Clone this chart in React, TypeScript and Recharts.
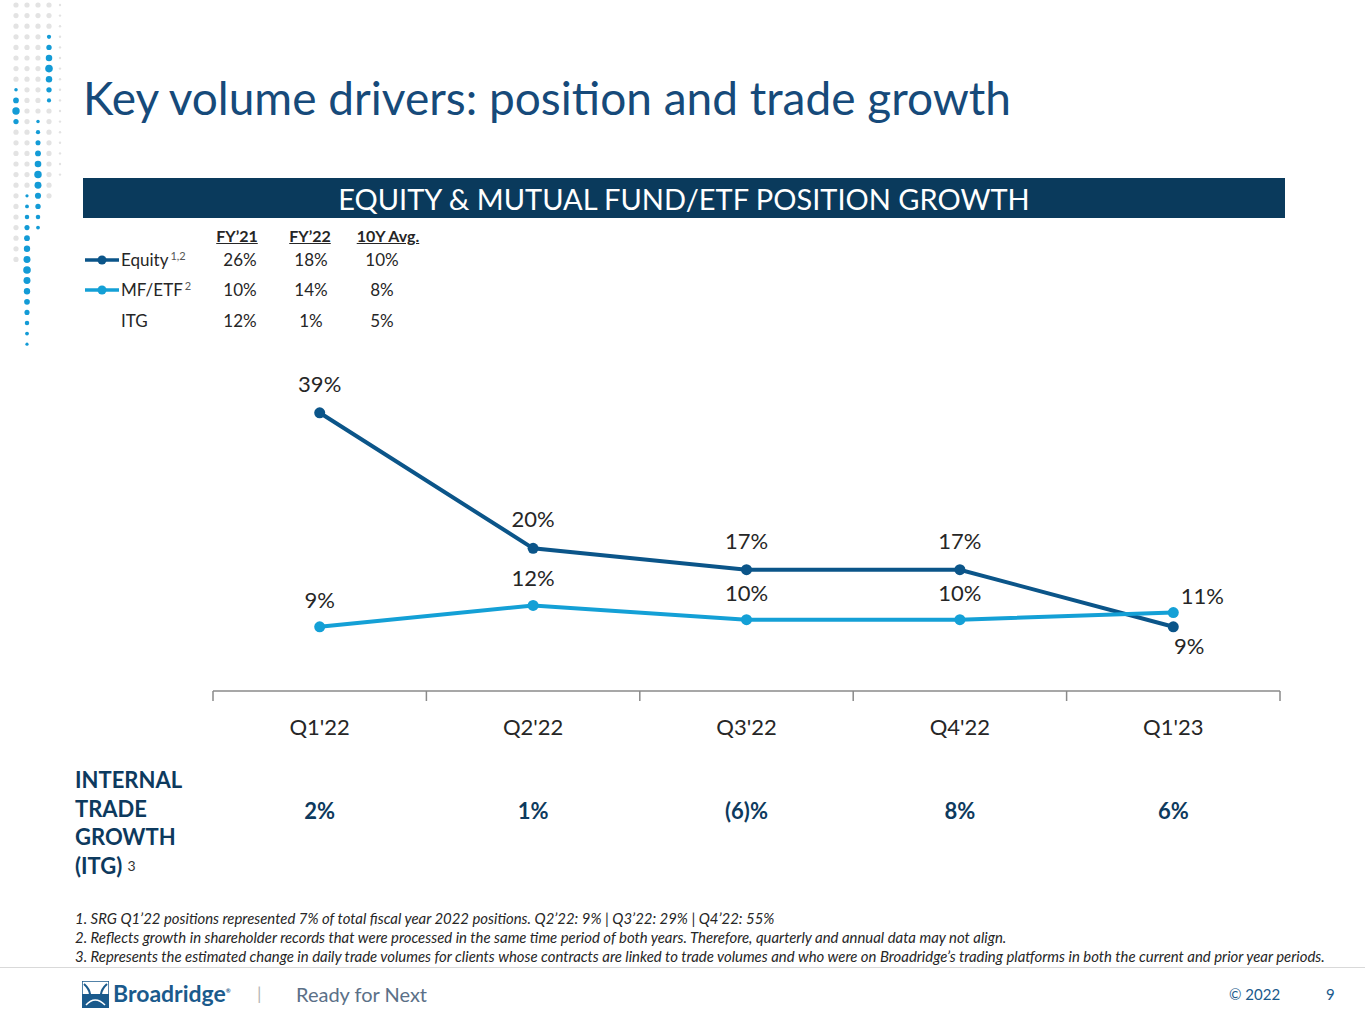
import { LineChart, Line, XAxis, YAxis, LabelList } from 'recharts'

// chart values
const quarters = ["Q1'22", "Q2'22", "Q3'22", "Q4'22", "Q1'23"]
const equityGrowth = [39, 20, 17, 17, 9]
const mfEtfGrowth = [9, 12, 10, 10, 11]
const itgGrowth = [2, 1, -6, 8, 6]

// annual table in the legend
const annualHeaders = ['FY’21', 'FY’22', '10Y Avg.']
const equityAnnual = [26, 18, 10]
const mfEtfAnnual = [10, 14, 8]
const itgAnnual = [12, 1, 5]

const footnotes = [
  '1. SRG Q1’22 positions represented 7% of total fiscal year 2022 positions. Q2’22: 9% | Q3’22: 29% | Q4’22: 55%',
  '2. Reflects growth in shareholder records that were processed in the same time period of both years. Therefore, quarterly and annual data may not align.',
  '3. Represents the estimated change in daily trade volumes for clients whose contracts are linked to trade volumes and who were on Broadridge’s trading platforms in both the current and prior year periods.',
]

const EQUITY = '#0b5589'
const MF = '#14a0d6'
const NAVY = '#0d3a5e'
const FONT = 'Lato, "Open Sans", sans-serif'
const HALF_BAND = 1067 / 5 / 2

const fmtPct = (v: number) => (v < 0 ? `(${Math.abs(v)})%` : `${v}%`)

const data = quarters.map((q, i) => ({
  quarter: q,
  equity: equityGrowth[i],
  mf: mfEtfGrowth[i],
  itg: fmtPct(itgGrowth[i]),
}))

function QuarterTick(props: any) {
  const { x, y, payload, index } = props
  const last = index === quarters.length - 1
  return (
    <g>
      <line x1={x - HALF_BAND} x2={x - HALF_BAND} y1={y} y2={y + 10} stroke="#8a8a8a" strokeWidth={1.5} />
      {last && <line x1={x + HALF_BAND} x2={x + HALF_BAND} y1={y} y2={y + 10} stroke="#8a8a8a" strokeWidth={1.5} />}
      <text x={x} y={y + 44} textAnchor="middle" fontSize={22} fill="#262626" fontFamily={FONT}>
        {payload.value}
      </text>
    </g>
  )
}

function ItgTick(props: any) {
  const { x, y, payload } = props
  return (
    <text x={x} y={y + 68} textAnchor="middle" fontSize={22} fontWeight={700} fill={NAVY} fontFamily={FONT}>
      {payload.value}
    </text>
  )
}

function EquityLabel(props: any) {
  const { x, y, value, index } = props
  const below = index === equityGrowth.length - 1
  return (
    <text
      x={below ? x + 16 : x}
      y={below ? y + 27 : y - 21}
      textAnchor="middle"
      fontSize={22}
      fill="#262626"
      fontFamily={FONT}
    >
      {value}%
    </text>
  )
}

function MfLabel(props: any) {
  const { x, y, value, index } = props
  const right = index === mfEtfGrowth.length - 1
  return (
    <text
      x={right ? x + 29 : x}
      y={right ? y - 9 : y - 19}
      textAnchor="middle"
      fontSize={22}
      fill="#262626"
      fontFamily={FONT}
    >
      {value}%
    </text>
  )
}

// decorative dot strip on the left edge
const dotCols = [16, 27, 38, 49, 60]
const blueRuns: [number, number, number][] = [
  [3, 27, 110],
  [0, 88, 132],
  [2, 118, 235],
  [1, 195, 345],
]

function DotStrip() {
  const dots: JSX.Element[] = []
  dotCols.forEach((cx, c) => {
    for (let cy = 5; cy < 345; cy += 10.6) {
      const run = blueRuns.find((r) => r[0] === c && cy >= r[1] && cy <= r[2])
      if (run) {
        const mid = (run[1] + run[2]) / 2
        const r = 1.6 + 2.2 * (1 - Math.abs(cy - mid) / ((run[2] - run[1]) / 2))
        dots.push(<circle key={`${c}-${cy}`} cx={cx} cy={cy} r={Math.max(1.5, r)} fill="#139bd6" />)
      } else if (cy < 260 - c * 20) {
        dots.push(<circle key={`${c}-${cy}`} cx={cx} cy={cy} r={c === 4 ? 1.2 : 2.6} fill="#e3e3e3" />)
      }
    }
  })
  return (
    <svg width={75} height={350} style={{ position: 'absolute', left: 0, top: 0 }}>
      {dots}
    </svg>
  )
}

function LegendMarker({ color }: { color: string }) {
  return (
    <svg width={36} height={12} style={{ position: 'absolute', left: 84, top: -6 }}>
      <line x1={1} x2={35} y1={6} y2={6} stroke={color} strokeWidth={3.5} />
      <circle cx={18} cy={6} r={4.5} fill={color} />
    </svg>
  )
}

function AnnualRow({ top, name, sup, values, color }: { top: number; name: string; sup?: string; values: number[]; color?: string }) {
  return (
    <div style={{ position: 'absolute', left: 0, top, width: 450 }}>
      {color && <LegendMarker color={color} />}
      <span style={{ position: 'absolute', left: 121, top: -11, fontSize: 17, color: '#262626', whiteSpace: 'nowrap' }}>
        {name}
        {sup && <span style={{ fontSize: 11, color: '#555', verticalAlign: 'top', marginLeft: 2 }}>{sup}</span>}
      </span>
      {values.map((v, i) => (
        <span
          key={i}
          style={{ position: 'absolute', left: [240, 311, 382][i] - 30, width: 60, textAlign: 'center', top: -11, fontSize: 17, color: '#262626' }}
        >
          {v}%
        </span>
      ))}
    </div>
  )
}

export default function App() {
  return (
    <div
      style={{
        position: 'absolute',
        left: 0,
        top: 0,
        width: 1365,
        height: 1024,
        background: '#ffffff',
        fontFamily: FONT,
        overflow: 'hidden',
      }}
    >
      <DotStrip />
      <div style={{ position: 'absolute', left: 83, top: 70, fontSize: 46, color: '#164a7a', whiteSpace: 'nowrap' }}>
        Key volume drivers: position and trade growth
      </div>
      <div
        style={{
          position: 'absolute',
          left: 83,
          top: 178,
          width: 1202,
          height: 40,
          background: '#0a3a5c',
          color: '#ffffff',
          fontSize: 29,
          textAlign: 'center',
          lineHeight: '42px',
        }}
      >
        EQUITY &amp; MUTUAL FUND/ETF POSITION GROWTH
      </div>

      {annualHeaders.map((h, i) => (
        <span
          key={h}
          style={{
            position: 'absolute',
            left: [237, 310, 388][i] - 40,
            width: 80,
            top: 226,
            textAlign: 'center',
            fontSize: 16,
            fontWeight: 700,
            textDecoration: 'underline',
            color: '#262626',
          }}
        >
          {h}
        </span>
      ))}
      <AnnualRow top={260} name="Equity" sup="1,2" values={equityAnnual} color={EQUITY} />
      <AnnualRow top={290} name="MF/ETF" sup="2" values={mfEtfAnnual} color={MF} />
      <AnnualRow top={321} name="ITG" values={itgAnnual} />

      <div style={{ position: 'absolute', left: 200, top: 340 }}>
        <LineChart width={1100} height={520} data={data} margin={{ top: 30, right: 20, left: 13, bottom: 9 }}>
          <YAxis hide domain={[0, 45]} />
          <XAxis
            dataKey="quarter"
            scale="band"
            height={60}
            tickSize={0}
            tickMargin={0}
            axisLine={{ stroke: '#8a8a8a', strokeWidth: 1.5 }}
            tickLine={false}
            tick={<QuarterTick />}
            interval={0}
          />
          <XAxis
            xAxisId="itg"
            dataKey="itg"
            scale="band"
            height={100}
            tickSize={0}
            tickMargin={0}
            axisLine={false}
            tickLine={false}
            tick={<ItgTick />}
            interval={0}
          />
          <Line
            dataKey="equity"
            stroke={EQUITY}
            strokeWidth={4}
            dot={{ r: 5.5, fill: EQUITY, stroke: EQUITY, strokeWidth: 0 }}
            isAnimationActive={false}
          >
            <LabelList dataKey="equity" content={<EquityLabel />} />
          </Line>
          <Line
            dataKey="mf"
            stroke={MF}
            strokeWidth={4}
            dot={{ r: 5.5, fill: MF, stroke: MF, strokeWidth: 0 }}
            isAnimationActive={false}
          >
            <LabelList dataKey="mf" content={<MfLabel />} />
          </Line>
        </LineChart>
      </div>

      <div style={{ position: 'absolute', left: 75, top: 766, fontSize: 22, fontWeight: 700, color: NAVY, lineHeight: '28.5px' }}>
        INTERNAL
        <br />
        TRADE
        <br />
        GROWTH
        <br />
        (ITG) <span style={{ fontSize: 14, fontWeight: 400, color: '#333', verticalAlign: 'top' }}>3</span>
      </div>

      <div style={{ position: 'absolute', left: 75, top: 909, fontSize: 14.9, fontStyle: 'italic', color: '#262626', lineHeight: '19px' }}>
        {footnotes.map((f) => (
          <div key={f} style={{ whiteSpace: 'nowrap' }}>
            {f}
          </div>
        ))}
      </div>

      <div style={{ position: 'absolute', left: 0, top: 967, width: 1365, height: 1, background: '#d9d9d9' }} />

      <svg width={27} height={27} style={{ position: 'absolute', left: 82, top: 981 }}>
        <rect x={0} y={0} width={27} height={27} fill="#ffffff" stroke="#1a5a8c" strokeWidth={1.5} />
        <rect x={0} y={13} width={27} height={14} fill="#1a5a8c" />
        <path d="M2 3 Q13 13 4 24 M25 3 Q14 13 23 24" stroke="#1a5a8c" strokeWidth={2} fill="none" />
        <path d="M4 24 Q13 14 23 24" stroke="#ffffff" strokeWidth={1.5} fill="none" />
      </svg>
      <span style={{ position: 'absolute', left: 113, top: 979, fontSize: 23, fontWeight: 700, color: '#1a5a8c' }}>
        Broadridge<sup style={{ fontSize: 6 }}>®</sup>
      </span>
      <span style={{ position: 'absolute', left: 257, top: 982, fontSize: 18, color: '#b5b5b5' }}>|</span>
      <span style={{ position: 'absolute', left: 296, top: 982, fontSize: 20, color: '#5b7087' }}>Ready for Next</span>
      <span style={{ position: 'absolute', left: 1229, top: 985, fontSize: 15, color: '#1a5a8c' }}>© 2022</span>
      <span style={{ position: 'absolute', left: 1326, top: 985, fontSize: 15, color: '#1a5a8c' }}>9</span>
    </div>
  )
}
